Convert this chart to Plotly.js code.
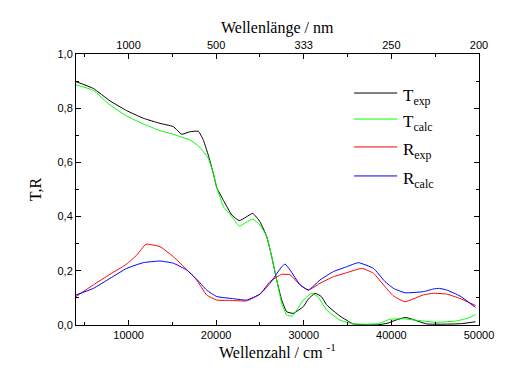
<!DOCTYPE html>
<html><head><meta charset="utf-8">
<script src="https://cdn.plot.ly/plotly-3.0.1.min.js"></script>
<style>body{margin:0;background:#fff}#c{width:527px;height:384px}</style>
</head><body><div id="c"></div>
<script>
// Transmission / reflection spectra
const tExpX = [4000,5975,7880,9790,11680,13590,15110,16060,17010,17960,18530,18910,19100,19670,20070,20830,21780,22640,23400,24170,25000,25770,26340,26910,27480,28050,28810,29950,30500,31290,32000,32620,34130,35640,37000,38500,39500,40500,41600,42500,44000,46000,48000,49600];
const tExpY = [0.898,0.873,0.827,0.791,0.763,0.744,0.732,0.704,0.713,0.715,0.683,0.646,0.627,0.560,0.507,0.460,0.406,0.385,0.398,0.412,0.381,0.326,0.252,0.166,0.092,0.049,0.043,0.068,0.095,0.117,0.105,0.074,0.033,0.004,0.001,0.001,0.006,0.018,0.028,0.020,0.004,0.003,0.005,0.012];
const tCalcX = [4000,5975,7880,9790,11680,13590,15110,16060,17010,17960,18530,19100,19670,20070,20830,21780,22640,23400,24170,25000,25770,26340,26910,27480,28050,28700,29950,30900,31600,32620,34130,35640,37000,38500,39840,41360,43260,45170,47450,48970,49600];
const tCalcY = [0.886,0.866,0.812,0.771,0.742,0.717,0.704,0.693,0.683,0.661,0.640,0.615,0.560,0.507,0.437,0.400,0.365,0.378,0.391,0.369,0.326,0.252,0.166,0.080,0.037,0.033,0.092,0.117,0.105,0.055,0.018,0.004,0.003,0.005,0.021,0.023,0.016,0.010,0.015,0.028,0.039];
const rExpX = [4000,5975,7880,9790,10930,11990,13590,15110,16630,17770,18910,20070,21500,23470,25000,26140,27480,28430,29580,30530,31850,33380,34900,36620,37950,39280,40240,41550,43650,44790,46310,47830,49600];
const rExpY = [0.105,0.148,0.187,0.225,0.258,0.298,0.289,0.252,0.205,0.166,0.111,0.092,0.091,0.089,0.114,0.160,0.187,0.185,0.148,0.129,0.154,0.178,0.193,0.209,0.191,0.141,0.107,0.086,0.111,0.117,0.114,0.098,0.072];
const rCalcX = [4000,5975,7880,9790,11680,13590,15110,16630,17770,18910,20070,22000,23470,25000,26140,27480,27860,28430,29580,30530,31850,33380,34900,36230,37950,39280,40240,41550,43650,44790,45500,46310,47830,49600];
const rCalcY = [0.111,0.135,0.172,0.209,0.230,0.236,0.228,0.203,0.169,0.129,0.105,0.097,0.092,0.114,0.154,0.215,0.225,0.203,0.148,0.129,0.166,0.197,0.215,0.230,0.209,0.160,0.135,0.119,0.123,0.133,0.135,0.129,0.107,0.065];

const xTickVals = [10000,20000,30000,40000,50000];
const topTickText = ['1000','500','333','250','200'];
const seriesNames = ['T<sub>exp</sub>','T<sub>calc</sub>','R<sub>exp</sub>','R<sub>calc</sub>'];
const seriesColors = ['#000000','#00ff00','#ff0000','#0000ff'];

const xs = [tExpX,tCalcX,rExpX,rCalcX];
const ys = [tExpY,tCalcY,rExpY,rCalcY];
const traces = xs.map((x,i)=>({x:x,y:ys[i],type:'scatter',mode:'lines',name:seriesNames[i],
  line:{color:seriesColors[i],width:1,shape:'spline',smoothing:0.4},hoverinfo:'skip',showlegend:false}));
traces.push({x:tExpX,y:tExpY,xaxis:'x2',yaxis:'y',type:'scatter',mode:'lines',
  line:{width:0,color:'rgba(0,0,0,0)'},showlegend:false,hoverinfo:'skip'});

const tickFont = {family:'Liberation Sans, Arial, sans-serif',size:11,color:'#000'};
const titleFont = {family:'Liberation Serif, Times New Roman, serif',size:16,color:'#000'};

// manual legend (paper coordinates)
const legX0 = 0.690, legX1 = 0.797, legTextX = 0.806;
const legY = [0.856,0.760,0.657,0.550];
const shapes = seriesNames.map((n,i)=>({type:'line',xref:'paper',yref:'paper',x0:legX0,x1:legX1,y0:legY[i],y1:legY[i],
  line:{color:seriesColors[i],width:1}}));
const annotations = seriesNames.map((n,i)=>({xref:'paper',yref:'paper',x:legTextX,y:legY[i],xanchor:'left',yanchor:'middle',
  yshift:-4,text:n,showarrow:false,font:{family:'Liberation Serif, Times New Roman, serif',size:17,color:'#000'}}));
annotations.push({xref:'paper',yref:'paper',x:0.5,y:1,xanchor:'center',yanchor:'middle',yshift:26,
  text:'Wellenlänge / nm',showarrow:false,font:titleFont});

const layout = {
  width:527,height:384,
  margin:{l:76,r:48,t:54,b:59},
  paper_bgcolor:'#fff',plot_bgcolor:'#fff',
  separators:', ',
  showlegend:false,
  shapes:shapes, annotations:annotations,
  xaxis:{range:[4000,50000],tickvals:xTickVals,tickformat:'d',ticks:'inside',ticklen:5,
    tickcolor:'#000',showline:true,linecolor:'#000',linewidth:1,mirror:true,
    showgrid:false,zeroline:false,tickfont:tickFont,
    minor:{tickvals:[5000,15000,25000,35000,45000],ticks:'inside',ticklen:3,tickcolor:'#000'},
    title:{text:'Wellenzahl / cm <sup>-1</sup>',font:titleFont,standoff:6}},
  xaxis2:{range:[4000,50000],overlaying:'x',side:'top',tickvals:xTickVals,ticktext:topTickText,
    ticks:'inside',ticklen:5,tickcolor:'#000',showline:true,linecolor:'#000',showgrid:false,
    zeroline:false,tickfont:tickFont,
    minor:{tickvals:[5000,15000,25000,35000,45000],ticks:'inside',ticklen:3,tickcolor:'#000'}},
  yaxis:{range:[0,1],dtick:0.2,tick0:0,tickformat:'.1f',ticks:'inside',ticklen:5,tickcolor:'#000',
    showline:true,linecolor:'#000',mirror:'ticks',showgrid:false,zeroline:false,tickfont:tickFont,
    minor:{dtick:0.1,ticks:'inside',ticklen:3,tickcolor:'#000'},
    title:{text:'T,R',font:titleFont,standoff:11}}
};
Plotly.newPlot('c',traces,layout,{staticPlot:true,displayModeBar:false});
</script></body></html>
